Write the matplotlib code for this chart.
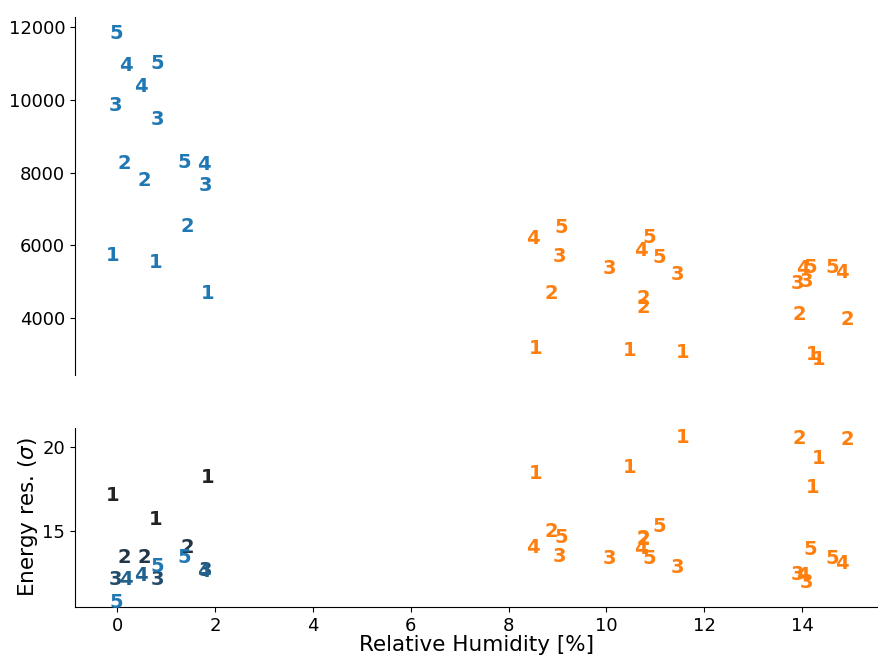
import matplotlib
matplotlib.use("Agg")
import matplotlib.pyplot as plt
import matplotlib.colors as mcolors
import numpy as np

# blue group (low humidity), one list per label 1..5
blue_x = {
    1: [-0.10, 0.78, 1.85],
    2: [0.15, 0.56, 1.43],
    3: [-0.04, 0.83, 1.80],
    4: [0.17, 0.49, 1.78],
    5: [-0.02, 0.83, 1.37],
}
blue_top = {
    1: [5715, 5530, 4688],
    2: [8256, 7780, 6513],
    3: [9844, 9451, 7642],
    4: [10946, 10367, 8232],
    5: [11818, 11009, 8267],
}
blue_bot = {
    1: [17.12, 15.71, 18.19],
    2: [13.45, 13.45, 14.01],
    3: [12.14, 12.14, 12.66],
    4: [12.14, 12.34, 12.62],
    5: [10.73, 12.88, 13.41],
}

# orange group (high humidity)
orange_x = {
    1: [8.55, 10.47, 11.55, 14.21, 14.33],
    2: [8.88, 10.75, 10.75, 13.94, 14.93],
    3: [9.04, 10.06, 11.45, 13.90, 14.09],
    4: [8.49, 10.70, 14.02, 14.81],
    5: [9.08, 10.88, 11.08, 14.16, 14.62],
}
orange_top = {
    1: [3163, 3119, 3053, 3009, 2871],
    2: [4677, 4550, 4292, 4106, 3972],
    3: [5687, 5365, 5192, 4936, 5007],
    4: [6191, 5853, 5349, 5255],
    5: [6494, 6202, 5668, 5393, 5393],
}
orange_bot = {
    1: [18.43, 18.79, 20.60, 17.62, 19.35],
    2: [14.96, 14.56, 14.50, 20.50, 20.46],
    3: [13.49, 13.35, 12.84, 12.44, 11.93],
    4: [14.05, 13.95, 12.34, 13.05],
    5: [14.62, 13.35, 15.30, 13.89, 13.35],
}

blue = "#1f77b4"
orange = "#ff7f0e"
dark = "#222222"


def mix(c1, c2, f):
    a = np.array(mcolors.to_rgb(c1))
    b = np.array(mcolors.to_rgb(c2))
    return tuple((1 - f) * a + f * b)


fig = plt.figure(figsize=(8.79, 6.56), dpi=100)
gs = fig.add_gridspec(2, 1, height_ratios=[2, 1], hspace=0.197,
                      left=0.0853, right=0.999, top=0.974, bottom=0.0747)
ax1 = fig.add_subplot(gs[0])
ax2 = fig.add_subplot(gs[1], sharex=ax1)

txt = dict(ha="center", va="center", fontsize=14, fontweight="bold")

for lab in blue_x:
    col_b = mix(dark, blue, (lab - 1) / 4)
    for x, yt, yb in zip(blue_x[lab], blue_top[lab], blue_bot[lab]):
        ax1.text(x, yt, str(lab), color=blue, **txt)
        ax2.text(x, yb, str(lab), color=col_b, **txt)

for lab in orange_x:
    for x, yt, yb in zip(orange_x[lab], orange_top[lab], orange_bot[lab]):
        ax1.text(x, yt, str(lab), color=orange, **txt)
        ax2.text(x, yb, str(lab), color=orange, **txt)

ax1.set_xlim(-0.86, 15.55)
ax1.set_ylim(2430, 12280)
ax2.set_ylim(10.48, 21.15)

ax1.set_yticks([4000, 6000, 8000, 10000, 12000])
ax2.set_yticks([15, 20])
ax2.set_xticks([0, 2, 4, 6, 8, 10, 12, 14])

for s in ["top", "right", "bottom"]:
    ax1.spines[s].set_visible(False)
ax1.tick_params(axis="x", bottom=False, labelbottom=False)
for s in ["top", "right"]:
    ax2.spines[s].set_visible(False)

ax1.tick_params(axis="y", labelsize=13)
ax2.tick_params(labelsize=13)

ax2.set_xlabel("Relative Humidity [%]", fontsize=15.5, labelpad=0)
ax2.set_ylabel(r"Energy res. ($\sigma$)", fontsize=15.5, labelpad=2)

fig.savefig("out.png", dpi=100)
